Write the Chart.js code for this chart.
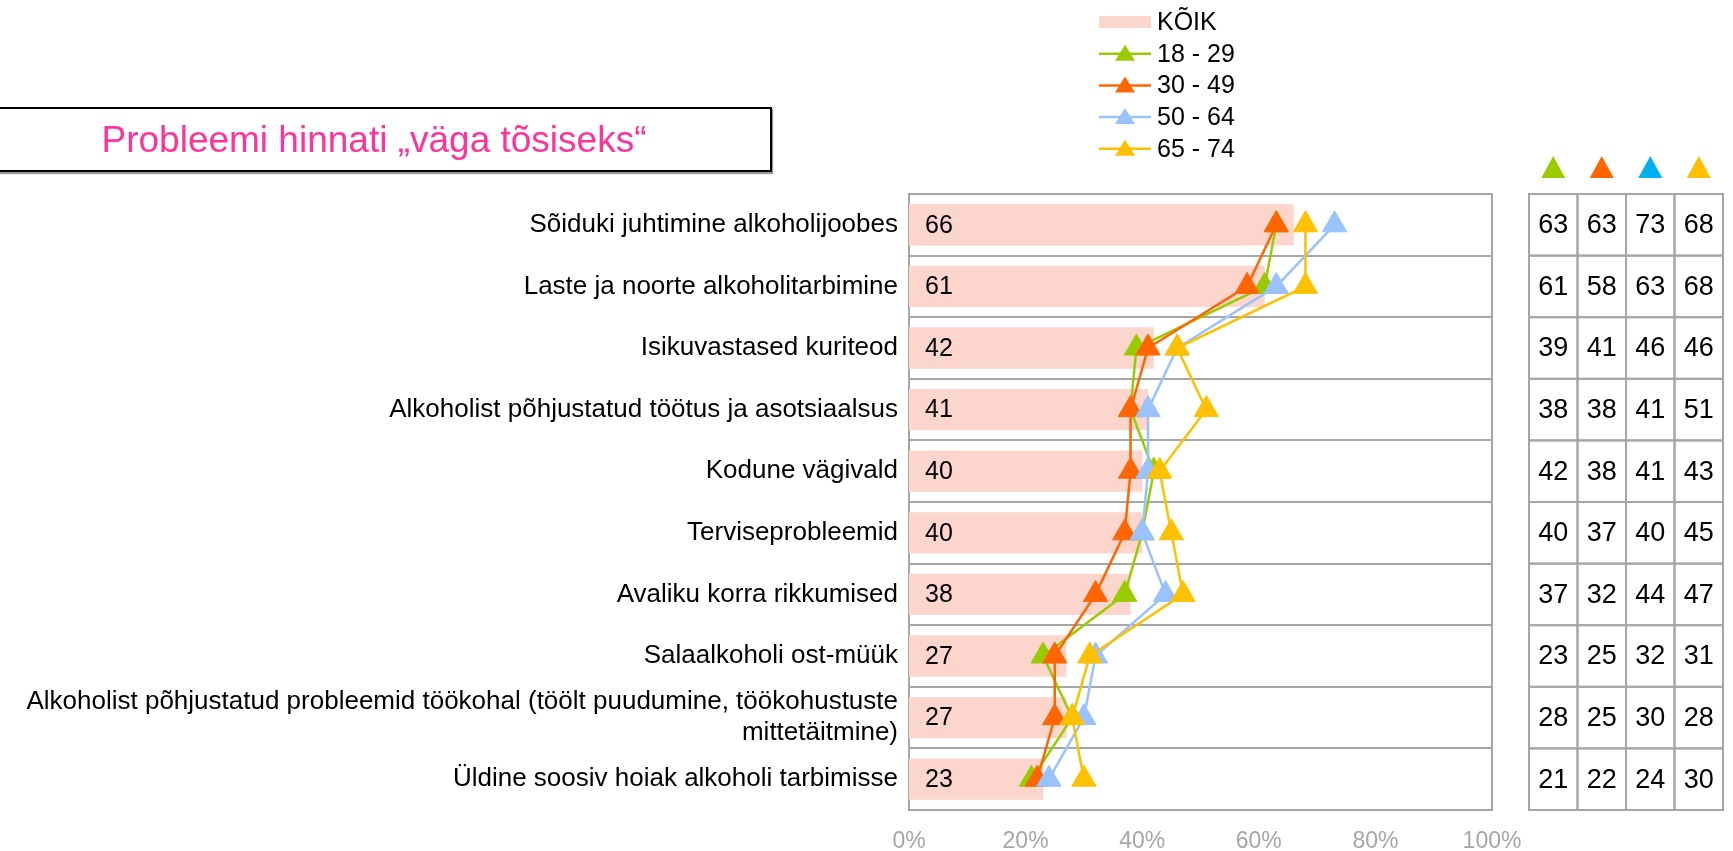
<!DOCTYPE html>
<html>
<head>
<meta charset="utf-8">
<script src="https://cdn.jsdelivr.net/npm/chart.js@4/dist/chart.umd.min.js"></script>
<style>
  body { margin: 0; background: #fff; font-family: "Liberation Sans", Arial, sans-serif; }
  #wrap { position: relative; width: 1733px; height: 851px; }
  #title {
    position: absolute; left: -2px; top: 107px; width: 774px; height: 65px;
    box-sizing: border-box; border: 2px solid #000; box-shadow: 1px 2px 1px #999;
    color: #ff3399; font-size: 37px; line-height: 61px; text-align: center;
    padding-right: 22px; background: #fff;
  }
</style>
</head>
<body>
<div id="wrap">
  <canvas id="chart" width="1733" height="851"></canvas>
  <div id="title">Probleemi hinnati „väga tõsiseks“</div>
</div>
<script>
// Problems rated "very serious", % by age group
const categories = [
  'Sõiduki juhtimine alkoholijoobes',
  'Laste ja noorte alkoholitarbimine',
  'Isikuvastased kuriteod',
  'Alkoholist põhjustatud töötus ja asotsiaalsus',
  'Kodune vägivald',
  'Terviseprobleemid',
  'Avaliku korra rikkumised',
  'Salaalkoholi ost-müük',
  ['Alkoholist põhjustatud probleemid töökohal (töölt puudumine, töökohustuste', 'mittetäitmine)'],
  'Üldine soosiv hoiak alkoholi tarbimisse'
];
const koik   = [66, 61, 42, 41, 40, 40, 38, 27, 27, 23];
const age1829 = [63, 61, 39, 38, 42, 40, 37, 23, 28, 21];
const age3049 = [63, 58, 41, 38, 38, 37, 32, 25, 25, 22];
const age5064 = [73, 63, 46, 41, 41, 40, 44, 32, 30, 24];
const age6574 = [68, 68, 46, 51, 43, 45, 47, 31, 28, 30];
const xTicks = [0, 20, 40, 60, 80, 100];

const gray = '#a6a6a6';
const font = '"Liberation Sans", Arial, sans-serif';

function ageLine(label, data, color, order) {
  return {
    type: 'line', label: label, data: data, order: order,
    borderColor: color, backgroundColor: color, borderWidth: 2.5,
    pointStyle: 'triangle', pointRadius: 14, pointHoverRadius: 14,
    pointBackgroundColor: color, pointBorderColor: color, pointBorderWidth: 1
  };
}

function triangle(ctx, x, y, w, h, color) {
  ctx.beginPath();
  ctx.moveTo(x, y - h / 2);
  ctx.lineTo(x + w / 2, y + h / 2);
  ctx.lineTo(x - w / 2, y + h / 2);
  ctx.closePath();
  ctx.fillStyle = color;
  ctx.fill();
}

// frame round the plot area
const frame = {
  id: 'frame',
  beforeDatasetsDraw(chart) {
    const a = chart.chartArea, ctx = chart.ctx;
    ctx.save();
    ctx.strokeStyle = gray;
    ctx.lineWidth = 2;
    ctx.strokeRect(a.left, a.top, a.right - a.left, a.bottom - a.top);
    ctx.restore();
  }
};

// KÕIK values written inside the bars
const barValues = {
  id: 'barValues',
  afterDatasetsDraw(chart) {
    const ctx = chart.ctx, y = chart.scales.y;
    ctx.save();
    ctx.font = '25px ' + font;
    ctx.fillStyle = '#000';
    ctx.textAlign = 'left';
    ctx.textBaseline = 'middle';
    koik.forEach((v, i) => ctx.fillText(v, chart.chartArea.left + 16, y.getPixelForValue(i) + 1));
    ctx.restore();
  }
};

// vertical legend above the plot
const sideLegend = {
  id: 'sideLegend',
  afterDraw(chart) {
    const ctx = chart.ctx;
    const x0 = 1099, x1 = 1151, tx = 1157;
    ctx.save();
    ctx.font = '25px ' + font;
    ctx.textBaseline = 'middle';
    chart.data.datasets.forEach((ds, i) => {
      const cy = 22 + i * 31.7;
      if (ds.type === 'line') {
        ctx.strokeStyle = ds.borderColor;
        ctx.lineWidth = 2.5;
        ctx.beginPath();
        ctx.moveTo(x0, cy);
        ctx.lineTo(x1, cy);
        ctx.stroke();
        triangle(ctx, (x0 + x1) / 2, cy - 1, 20, 16, ds.borderColor);
      } else {
        ctx.fillStyle = ds.backgroundColor;
        ctx.fillRect(x0, cy - 6, x1 - x0, 12);
      }
      ctx.fillStyle = '#000';
      ctx.fillText(ds.label, tx, cy + 1);
    });
    ctx.restore();
  }
};

// table of age group values to the right of the plot
const sideTable = {
  id: 'sideTable',
  afterDraw(chart) {
    const ctx = chart.ctx, y = chart.scales.y, a = chart.chartArea;
    const cols = [age1829, age3049, age5064, age6574];
    const heads = ['#99cc00', '#ff6600', '#00b0f0', '#ffc000'];
    const left = a.right + 37, cw = 48.5;
    const half = (y.getPixelForValue(1) - y.getPixelForValue(0)) / 2;
    ctx.save();
    cols.forEach((c, j) => triangle(ctx, left + cw * (j + 0.5), a.top - 27, 24, 22, heads[j]));
    ctx.strokeStyle = gray;
    ctx.lineWidth = 2;
    ctx.font = '27px ' + font;
    ctx.fillStyle = '#000';
    ctx.textAlign = 'center';
    ctx.textBaseline = 'middle';
    categories.forEach((cat, i) => {
      const cy = y.getPixelForValue(i);
      cols.forEach((c, j) => {
        ctx.strokeRect(left + cw * j, cy - half, cw, half * 2);
        ctx.fillText(c[i], left + cw * (j + 0.5), cy + 1);
      });
    });
    ctx.restore();
  }
};

new Chart(document.getElementById('chart').getContext('2d'), {
  type: 'bar',
  data: {
    labels: categories,
    datasets: [
      {
        label: 'KÕIK', data: koik, order: 10,
        backgroundColor: 'rgb(252, 213, 205)',
        barPercentage: 0.67, categoryPercentage: 1
      },
      ageLine('18 - 29', age1829, '#99cc00', 4),
      ageLine('30 - 49', age3049, '#ff6600', 3),
      ageLine('50 - 64', age5064, '#99c2ff', 2),
      ageLine('65 - 74', age6574, '#ffc000', 1)
    ]
  },
  options: {
    indexAxis: 'y',
    responsive: false,
    animation: false,
    layout: { padding: { left: 0, right: 241, top: 194, bottom: 0 } },
    plugins: {
      legend: { display: false },
      tooltip: { enabled: false }
    },
    scales: {
      x: {
        min: 0, max: 100,
        afterBuildTicks: s => { s.ticks = xTicks.map(v => ({ value: v })); },
        afterFit: s => { s.height = 41; },
        grid: { display: false },
        border: { display: false },
        ticks: {
          padding: 10, color: gray,
          font: { size: 23, family: font },
          callback: v => v + '%'
        }
      },
      y: {
        afterFit: s => { s.width = 909; },
        grid: { color: gray, lineWidth: 2, drawTicks: false, offset: true },
        border: { display: false },
        ticks: {
          autoSkip: false,
          padding: 11, color: '#000',
          font: { size: 26, family: font, lineHeight: 1.2 }
        }
      }
    }
  },
  plugins: [frame, barValues, sideLegend, sideTable]
});
</script>
</body>
</html>
